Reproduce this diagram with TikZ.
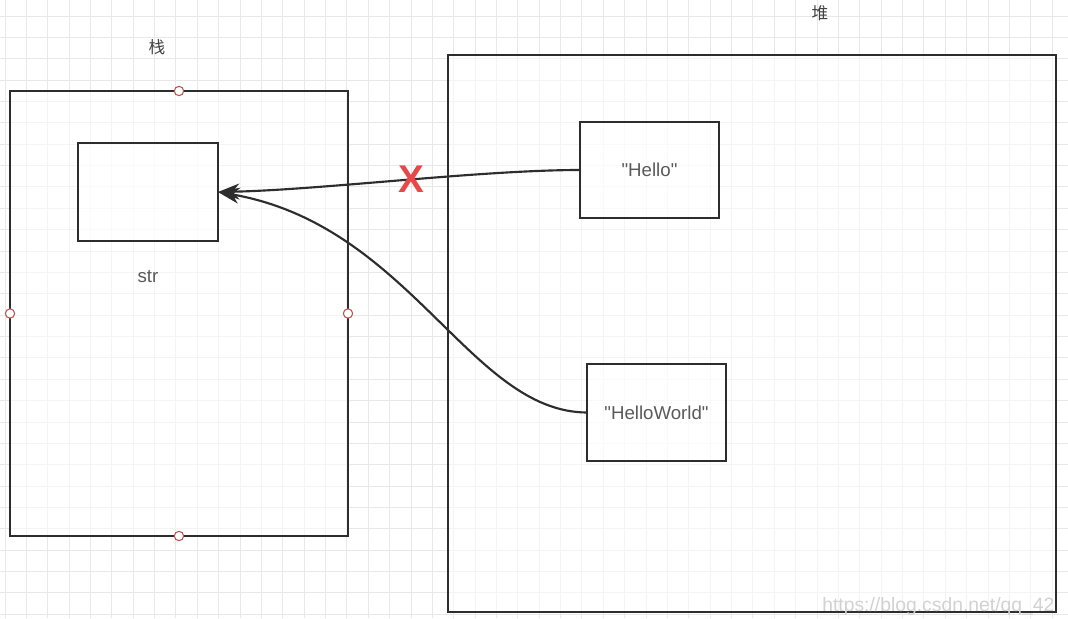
\documentclass[tikz,border=0pt]{standalone}
\usepackage{fontspec}
\setmainfont{Liberation Sans}
\newfontfamily\plainsans{Liberation Sans}
\newfontfamily\cjk{Noto Sans CJK SC}
\usetikzlibrary{arrows.meta}
\definecolor{gridc}{RGB}{232,232,232}
\definecolor{boxc}{RGB}{45,45,45}
\definecolor{txtc}{RGB}{90,90,90}
\definecolor{handle}{RGB}{184,84,80}
\definecolor{xred}{RGB}{232,72,72}
\tikzset{
  gridline/.style={draw=gridc, line width=0.75pt},
  box/.style={draw=boxc, line width=1.9pt, rectangle, inner sep=0pt, outer sep=0pt,
    fill=white, fill opacity=0.55, text opacity=1, text=txtc, font=\plainsans\fontsize{14}{16}\selectfont},
  lbl/.style={text=txtc, inner sep=0pt, font=\fontsize{14}{16}\selectfont},
  cjklbl/.style={text=boxc!90, inner sep=0pt, font=\cjk\fontsize{12.5}{14}\selectfont},
  hdl/.style={circle, draw=handle, fill=white, line width=0.8pt, minimum size=7pt, inner sep=0pt},
  ptr/.style={draw=boxc, line width=1.6pt, -{Stealth[length=16pt, width=12pt, inset=5pt]}},
}
\begin{document}
\begin{tikzpicture}[x=0.75pt, y=-0.75pt]
\useasboundingbox (0,0) rectangle (1068,618);
\clip (0,0) rectangle (1068,618);
\fill[white] (0,0) rectangle (1068,618);
% grid
\foreach \i in {0,...,49} \draw[gridline] ({5+\i*21.37},0) -- ({5+\i*21.37},618);
\foreach \i in {0,...,28} \draw[gridline] (0,{16+\i*21.37}) -- (1068,{16+\i*21.37});
% stack
\node[box, minimum width=253.5pt, minimum height=333.75pt] (stack) at (179,313.5) {};
\node[cjklbl] (stacklbl) at (157,47) {栈};
\node[box, minimum width=105pt, minimum height=73.5pt] (str) at (148,192) {};
\node[lbl] (strlbl) at (148,277) {str};
% heap
\node[box, minimum width=456pt, minimum height=417.75pt] (heap) at (752,333.5) {};
\node[cjklbl] (heaplbl) at (820,13) {堆};
\node[box, minimum width=104.25pt, minimum height=72pt] (hello) at (649.5,170) {"Hello"};
\node[box, minimum width=104.25pt, minimum height=72.75pt] (hw) at (656.5,412.5) {"HelloWorld"};
% handles
\node[hdl] (h1) at (stack.north) {};
\node[hdl] (h2) at (stack.south) {};
\node[hdl] (h3) at (stack.west) {};
\node[hdl] (h4) at (stack.east) {};
% pointers
\draw[ptr] (hello.west) .. controls (480,170) and (320,190) .. (str.east);
\draw[ptr] (hw.west) .. controls (470,412) and (410,225) .. (str.east);
% cross
\node[text=xred, inner sep=0pt, font=\bfseries\fontsize{29}{30}\selectfont] (cross) at (411,179) {X};
% watermark
\node[anchor=west, text=gray!35, inner sep=0pt, font=\fontsize{14.5}{16}\selectfont] (wm) at (822,606) {https://blog.csdn.net/qq\_42};
\end{tikzpicture}
\end{document}
